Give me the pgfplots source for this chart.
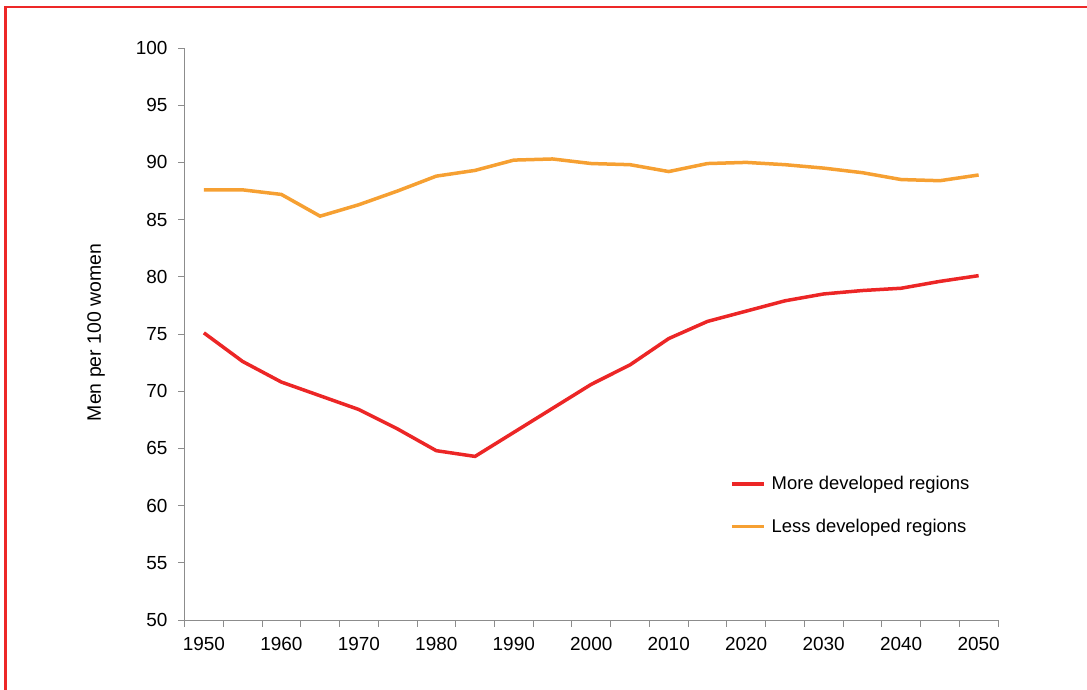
\documentclass[border=0pt]{standalone}
\usepackage{pgfplots}
\pgfplotsset{compat=1.18}
\usepackage{fontspec}
\setmainfont{Liberation Sans}
\definecolor{framered}{RGB}{237,40,40}
\definecolor{linered}{RGB}{236,38,38}
\definecolor{lineorange}{RGB}{246,160,50}
\definecolor{axisgray}{RGB}{140,140,140}
\begin{document}
\begin{tikzpicture}[x=1bp,y=1bp]
\begin{axis}[
  at={(184.5bp,70bp)}, anchor=south west,
  scale only axis, width=813.5bp, height=572bp,
  xmin=-0.5, xmax=20.5, ymin=50, ymax=100,
  axis lines*=left,
  axis line style={axisgray, line width=0.8pt},
  xtick={-0.5,0.5,...,20.5}, xticklabels={},
  extra x ticks={0,2,...,20},
  extra x tick labels={1950,1960,1970,1980,1990,2000,2010,2020,2030,2040,2050},
  extra x tick style={major tick length=0pt, tick label style={yshift=-14bp}},
  ytick={50,55,...,100},
  yticklabel style={xshift=-7bp},
  tick align=outside, major tick length=6.5bp,
  tick style={axisgray, line width=0.8pt},
  tick label style={font=\fontsize{19}{22}\selectfont, black},
  /pgf/number format/assume math mode=true,
  /pgf/number format/1000 sep={},
  legend style={at={(0.6706,0.255)}, anchor=north west, draw=none, fill=none,
    font=\fontsize{18.5}{22}\selectfont, row sep=24bp, inner sep=0pt},
  legend cell align=left,
  legend image code/.code={\draw[#1, line width=3.5bp] (0bp,0bp) -- (32bp,0bp); \path (36bp,0bp);},
]
\addplot[linered, line width=3.5bp] coordinates {
(0,75.1) (1,72.6) (2,70.8) (3,69.6) (4,68.4) (5,66.7) (6,64.8) (7,64.3)
(8,66.4) (9,68.5) (10,70.6) (11,72.3) (12,74.6) (13,76.1) (14,77.0)
(15,77.9) (16,78.5) (17,78.8) (18,79.0) (19,79.6) (20,80.1)};
\addlegendentry{More developed regions}
\addplot[lineorange, line width=3.5bp] coordinates {
(0,87.6) (1,87.6) (2,87.2) (3,85.3) (4,86.3) (5,87.5) (6,88.8) (7,89.3)
(8,90.2) (9,90.3) (10,89.9) (11,89.8) (12,89.2) (13,89.9) (14,90.0)
(15,89.8) (16,89.5) (17,89.1) (18,88.5) (19,88.4) (20,88.9)};
\addlegendentry{Less developed regions}
\end{axis}
\node[rotate=90, font=\fontsize{19.5}{22}\selectfont] at (96bp,357.5bp) {Men per 100 women};
\draw[framered, line width=2.5bp] (5.5bp,0bp) -- (5.5bp,683bp) -- (1087bp,683bp);
\pgfresetboundingbox
\path[use as bounding box] (0,0) rectangle (1087bp,690bp);
\end{tikzpicture}
\end{document}
